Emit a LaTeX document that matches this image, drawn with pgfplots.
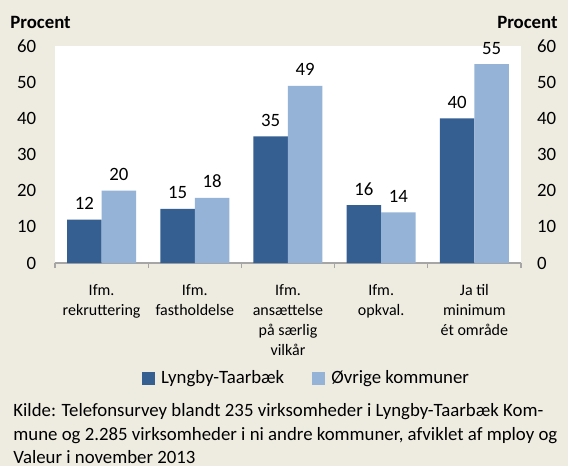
\documentclass[border=0pt]{standalone}
\usepackage{fontspec}
\setmainfont{Carlito}
\usepackage{pgfplots}
\pgfplotsset{compat=1.18}
\definecolor{bg}{HTML}{EEECE1}
\definecolor{dark}{HTML}{365F91}
\definecolor{light}{HTML}{95B3D7}
\definecolor{axgray}{HTML}{A6A6A6}
\newcommand{\f}{\fontsize{9.4}{10}\selectfont}
\newcommand{\fx}{\fontsize{8}{10}\selectfont}
\pgfplotsset{sq legend/.style={legend image code/.code={\fill[##1] (0pt,-3.25pt) rectangle (6.5pt,3.25pt);}}}
\begin{document}
\begin{tikzpicture}
\fill[bg] (0,0) rectangle (284pt,-233pt);
\node[anchor=base west, inner sep=0, font=\f\bfseries] at (5pt,-14pt) {Procent};
\node[anchor=base east, inner sep=0, font=\f\bfseries] at (279pt,-14pt) {Procent};
\begin{axis}[at={(27.5pt,-131.5pt)}, anchor=south west, scale only axis,
  width=233pt, height=108.5pt,
  ybar=0pt, bar width=17.25pt,
  ymin=0, ymax=60, xmin=-0.5, xmax=4.5,
  ytick={0,10,...,60},
  axis background/.style={fill=white},
  axis x line*=bottom, axis y line*=left,
  y axis line style={draw=none},
  x axis line style={draw=axgray, line width=0.6pt},
  ytick style={draw=none},
  tick align=outside, major tick length=2.5pt,
  xtick={-0.5,0.5,1.5,2.5,3.5,4.5}, xticklabels={,,,,,},
  xtick style={draw=axgray, line width=0.6pt},
  extra x ticks={0,1,2,3,4},
  extra x tick labels={{Ifm.\\rekruttering},{Ifm.\\fastholdelse},{Ifm.\\ansættelse\\på særlig\\vilkår},{Ifm.\\opkval.},{Ja til\\minimum\\ét område}},
  extra x tick style={major tick length=0pt, xtick style={draw=none},
    xticklabel style={align=center, font=\fx, anchor=north, yshift=-7.3pt}},
  yticklabel style={font=\f, xshift=-3.4pt},
  /pgf/number format/assume math mode=true,
  nodes near coords,
  nodes near coords style={font=\f, black, yshift=1.4pt},
  legend style={at={(0.5418,-0.53)}, anchor=center, draw=none, fill=none,
    legend columns=2, font=\f,
    /tikz/every odd column/.append style={column sep=1pt},
    /tikz/every even column/.append style={column sep=12pt}},
]
\addplot[fill=dark, draw=none, sq legend]
  coordinates {(0,12) (1,15) (2,35) (3,16) (4,40)};
\addplot[fill=light, draw=none, sq legend]
  coordinates {(0,20) (1,18) (2,49) (3,14) (4,55)};
\legend{Lyngby-Taarbæk, Øvrige kommuner}
\end{axis}
\begin{axis}[at={(27.5pt,-131.5pt)}, anchor=south west, scale only axis,
  width=233pt, height=108.5pt,
  ymin=0, ymax=60, xmin=-0.5, xmax=4.5,
  ytick={0,10,...,60},
  axis y line*=right, axis x line=none,
  y axis line style={draw=none}, ytick style={draw=none},
  tick align=outside, major tick length=2.5pt,
  yticklabel style={font=\f, xshift=2pt},
  /pgf/number format/assume math mode=true,
]
\addplot[draw=none] coordinates {(0,0)};
\end{axis}
\node[anchor=base west, align=left, inner sep=0, font=\fontsize{9.4}{11.75}\selectfont] at (6.5pt,-231.8pt)
  {Kilde: Telefonsurvey blandt 235 virksomheder i Lyngby-Taarbæk Kom-\\mune og 2.285 virksomheder i ni andre kommuner, afviklet af mploy og\\Valeur i november 2013};
\end{tikzpicture}
\end{document}
